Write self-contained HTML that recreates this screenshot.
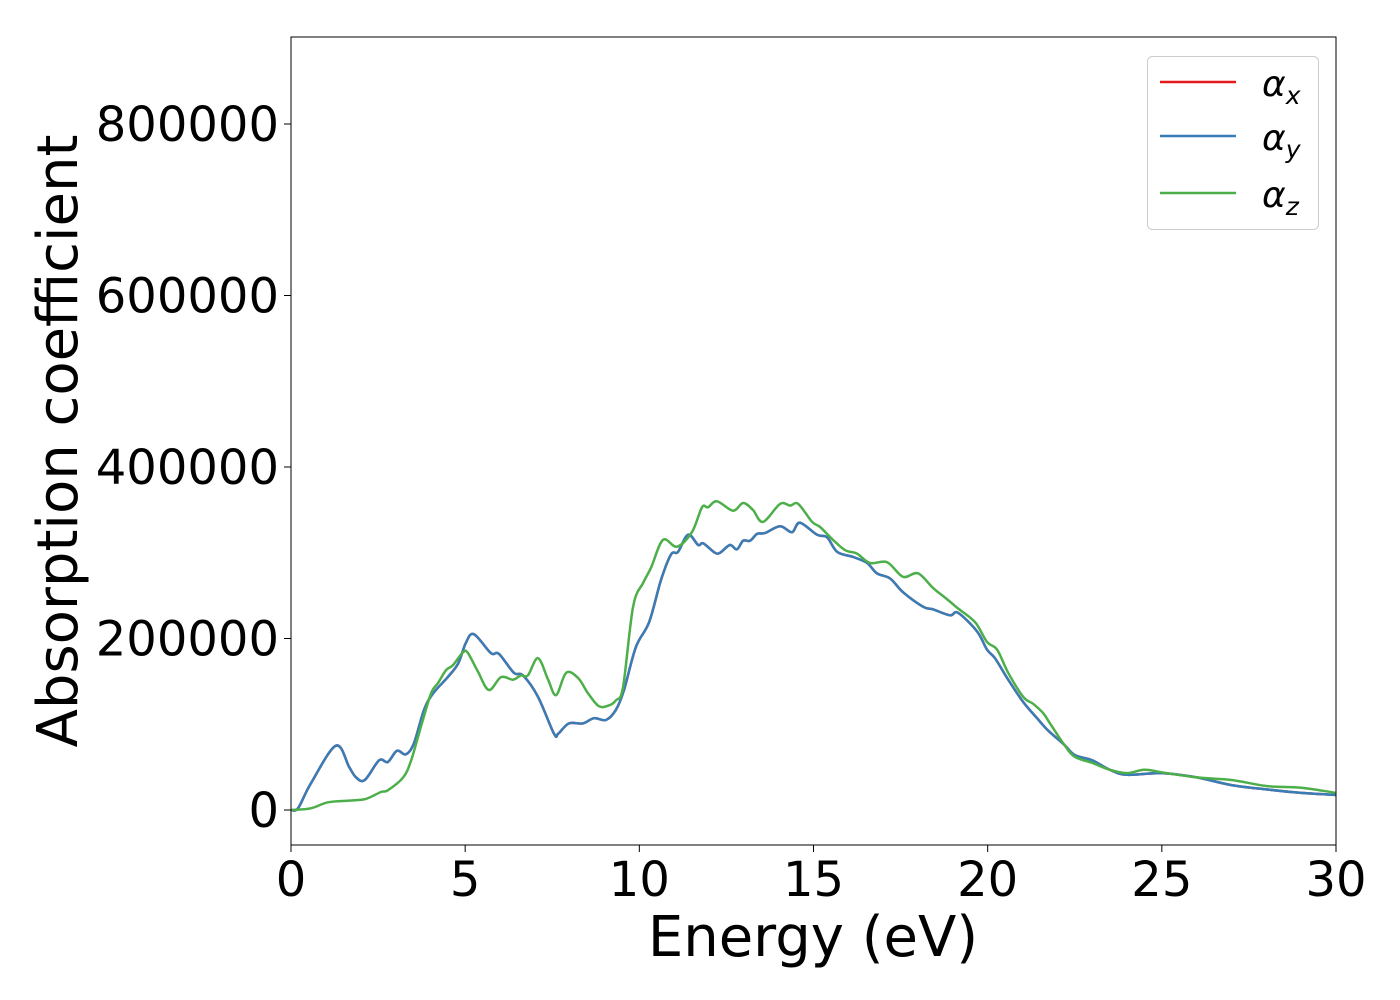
<!DOCTYPE html>
<html><head><meta charset="utf-8"><style>
body{margin:0;background:#fff;}
svg{display:block;font-family:"DejaVu Sans","Liberation Sans",sans-serif;}
</style></head><body>
<svg id="chart" width="1400" height="1000" viewBox="0 0 1400 1000">
<rect x="0" y="0" width="1400" height="1000" fill="#fff"/>
<g id="plot"></g>
<g id="axes"></g>
<text x="813" y="956" font-size="56" text-anchor="middle" font-family="DejaVu Sans, Liberation Sans, sans-serif">Energy (eV)</text>
<text transform="translate(77,441) rotate(-90)" font-size="56" text-anchor="middle" font-family="DejaVu Sans, Liberation Sans, sans-serif">Absorption coefficient</text>
<g font-family="DejaVu Sans, Liberation Sans, sans-serif">
<rect x="1147.5" y="56.5" width="171" height="173" rx="5" fill="#fff" fill-opacity="0.8" stroke="#ccc"/>
<line x1="1160" y1="82" x2="1236" y2="82" stroke="#e41a1c" stroke-width="2.5"/>
<text x="1262" y="96" font-size="36" font-style="italic">α<tspan font-size="25" dy="8">x</tspan></text>
<line x1="1160" y1="136" x2="1236" y2="136" stroke="#377eb8" stroke-width="2.5"/>
<text x="1262" y="150" font-size="36" font-style="italic">α<tspan font-size="25" dy="8">y</tspan></text>
<line x1="1160" y1="193" x2="1236" y2="193" stroke="#4daf4a" stroke-width="2.5"/>
<text x="1262" y="207" font-size="36" font-style="italic">α<tspan font-size="25" dy="8">z</tspan></text>
</g>
</svg>
<script>
const blueX=[0,0.2,0.57,1.29,1.67,1.87,2.12,2.53,2.78,3.04,3.3,3.53,3.82,4.08,4.5,4.8,5.02,5.25,5.74,5.97,6.4,6.66,7.09,7.55,7.67,7.98,8.38,8.7,9.04,9.33,9.56,9.9,10.28,10.62,10.91,11.11,11.4,11.69,11.83,12.17,12.32,12.6,12.8,12.98,13.18,13.38,13.61,14.04,14.38,14.61,15.1,15.39,15.68,16.14,16.54,16.82,17.2,17.57,18.15,18.43,18.92,19.15,19.7,19.98,20.21,20.59,21.02,21.42,21.73,22.2,22.5,23,23.5,24,25,26,27,28,29,30];
const blueY=[0,2000,31000,75000,50000,38000,35000,58000,56000,69000,65000,78000,117000,136000,155000,171000,195000,205000,183000,182000,160000,157000,132000,89000,89000,101000,101000,107000,105000,117000,140000,190000,219000,268000,298000,301000,321000,309000,311000,300000,300000,309000,304000,314000,314000,322000,323000,331000,324000,335000,321000,318000,301000,295000,288000,276000,270000,254000,237000,234000,227000,230000,208000,187000,177000,152000,126000,107000,93000,76000,64000,58000,47000,41000,43000,38000,29000,24000,20000,17500];
const greenX=[0,0.57,1.06,1.67,2.15,2.58,2.78,3.22,3.45,3.73,4.02,4.22,4.45,4.65,4.94,5.08,5.37,5.68,6.03,6.37,6.6,6.8,7.09,7.38,7.61,7.9,8.24,8.53,8.84,9.13,9.33,9.53,9.82,10.11,10.34,10.68,11.08,11.51,11.8,11.97,12.23,12.69,12.98,13.26,13.55,14.04,14.33,14.56,14.96,15.19,15.56,15.91,16.25,16.62,17.11,17.57,18.0,18.43,18.83,19.12,19.64,19.98,20.27,20.59,21.02,21.3,21.59,21.79,22.2,22.5,23,23.5,24,24.5,25,26,27,28,29,30];
const greenY=[0,2000,9000,11000,13000,21000,23000,38000,58000,97000,136000,148000,163000,169000,184000,183000,161000,140000,155000,152000,157000,157000,177000,152000,134000,160000,154000,136000,121000,122000,128000,143000,237000,265000,283000,315000,307000,324000,353000,353000,360000,349000,358000,350000,336000,357000,355000,357000,336000,330000,315000,303000,299000,288000,289000,272000,276000,259000,246000,236000,219000,196000,187000,160000,132000,124000,113000,101000,76000,62000,55000,47000,43000,47000,44000,38000,35000,28000,26000,20000];
const xTicks=[0,5,10,15,20,25,30];
const yTicks=[0,200000,400000,600000,800000];
const xTickLabels=["0","5","10","15","20","25","30"];
const yTickLabels=["0","200000","400000","600000","800000"];

const L=291,R=1336,T=37,B=845;
const xMin=0,xMax=30,yMin=-40816,yMax=901457;
const sx=v=>L+(v-xMin)/(xMax-xMin)*(R-L);
const sy=v=>B-(v-yMin)/(yMax-yMin)*(B-T);
const NS="http://www.w3.org/2000/svg";
const plot=document.getElementById('plot'),axes=document.getElementById('axes');
function mk(tag,attrs,parent){const e=document.createElementNS(NS,tag);for(const k in attrs)e.setAttribute(k,attrs[k]);parent.appendChild(e);return e;}
function pathD(xs,ys){
  const p=xs.map((x,i)=>[sx(x),sy(ys[i])]);
  let d="M"+p[0][0].toFixed(1)+","+p[0][1].toFixed(1);
  for(let i=0;i<p.length-1;i++){
    const p0=p[Math.max(0,i-1)],p1=p[i],p2=p[i+1],p3=p[Math.min(p.length-1,i+2)];
    const c1=[p1[0]+(p2[0]-p0[0])/6,p1[1]+(p2[1]-p0[1])/6];
    const c2=[p2[0]-(p3[0]-p1[0])/6,p2[1]-(p3[1]-p1[1])/6];
    d+="C"+c1.map(v=>v.toFixed(1))+" "+c2.map(v=>v.toFixed(1))+" "+p2.map(v=>v.toFixed(1));
  }
  return d;
}
mk('clipPath',{id:'clip'},plot);
mk('rect',{x:L,y:T,width:R-L,height:B-T},document.getElementById('clip'));
const g=mk('g',{'clip-path':'url(#clip)'},plot);
const red=mk('path',{d:pathD(blueX,blueY),fill:'none',stroke:'#e41a1c','stroke-width':2.5},g);


const blue=mk('path',{d:pathD(blueX,blueY),fill:'none',stroke:'#377eb8','stroke-width':2.5},g);


const green=mk('path',{d:pathD(greenX,greenY),fill:'none',stroke:'#4daf4a','stroke-width':2.5},g);



const frame=mk('rect',{x:L,y:T,width:R-L,height:B-T,fill:'none',stroke:'#000','stroke-width':1},axes);


xTicks.forEach((v,i)=>{
  const x=sx(v);
  mk('line',{x1:x,y1:B,x2:x,y2:B+7,stroke:'#000','stroke-width':1},axes);
  const t=mk('text',{x:x,y:B+51,'font-size':48,'text-anchor':'middle',fill:'#000'},axes);
  t.textContent=xTickLabels[i];
  
  
});
yTicks.forEach((v,i)=>{
  const y=sy(v);
  mk('line',{x1:L-7,y1:y,x2:L,y2:y,stroke:'#000','stroke-width':1},axes);
  const t=mk('text',{x:L-12,y:y+17,'font-size':48,'text-anchor':'end',fill:'#000'},axes);
  t.textContent=yTickLabels[i];
  
  
});
</script>
</body></html>
